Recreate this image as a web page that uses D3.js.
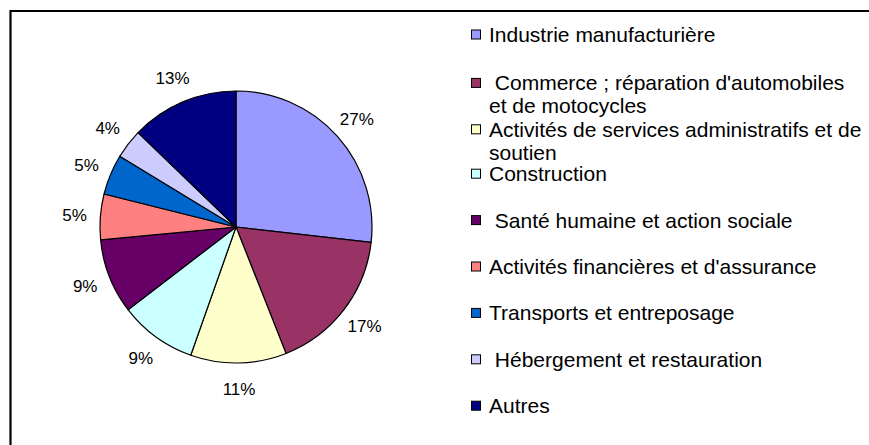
<!DOCTYPE html>
<html>
<head>
<meta charset="utf-8">
<script src="https://cdn.jsdelivr.net/npm/d3@7"></script>
<style>
  body { margin: 0; background: #fff; overflow: hidden; }
  svg { display: block; font-family: "Liberation Sans", Arial, sans-serif; }
</style>
</head>
<body>
<div id="wrapper"></div>
<script>
// secteurs (legend order = slice order, clockwise from 12 o'clock)
const categories = [
  "Industrie manufacturière",
  " Commerce ; réparation d'automobiles\net de motocycles",
  "Activités de services administratifs et de\nsoutien",
  "Construction",
  " Santé humaine et action sociale",
  "Activités financières et d'assurance",
  "Transports et entreposage",
  " Hébergement et restauration",
  "Autres",
]
// part en %
const shares = [26.8, 17.2, 11.4, 9.2, 8.9, 5.4, 4.8, 3.5, 12.8]
const colors = ["#9999FF", "#993366", "#FFFFCC", "#CCFFFF", "#660066", "#FF8080", "#0066CC", "#CCCCFF", "#000080"]

function drawPieChart() {

  // 1. Access data
  const dataset = categories.map((c, i) => ({ name: c, value: shares[i], color: colors[i] }))
  const valueAccessor = d => d.value

  // 2. Create chart dimensions
  let dimensions = {
    width: 869,
    height: 445,
    radius: 136,
    center: { x: 236, y: 227 },
    legend: { x: 471, y: 34.5, step: 46.4, lineHeight: 23 },
  }

  // 3. Draw canvas
  const wrapper = d3.select("#wrapper")
    .append("svg")
    .attr("width", dimensions.width)
    .attr("height", dimensions.height)

  // frame: only the top and left edges show in the picture
  wrapper.append("path")
    .attr("d", `M10.5,${dimensions.height} V11 H${dimensions.width}`)
    .attr("fill", "none")
    .attr("stroke", "#000")
    .attr("stroke-width", 2.2)

  const bounds = wrapper.append("g")
    .attr("transform", `translate(${dimensions.center.x}, ${dimensions.center.y})`)

  // 4. Create scales / generators
  const pieGenerator = d3.pie()
    .sort(null)
    .value(valueAccessor)

  const arcs = pieGenerator(dataset)

  const arcGenerator = d3.arc()
    .innerRadius(0)
    .outerRadius(dimensions.radius)

  const labelArc = d3.arc()
    .innerRadius(dimensions.radius + 26)
    .outerRadius(dimensions.radius + 26)

  // 5. Draw data
  bounds.selectAll(".slice")
    .data(arcs)
    .join("path")
    .attr("class", "slice")
    .attr("d", arcGenerator)
    .attr("fill", d => d.data.color)
    .attr("stroke", "#000")
    .attr("stroke-width", 1.2)
    .attr("stroke-linejoin", "round")

  bounds.selectAll(".pct")
    .data(arcs)
    .join("text")
    .attr("class", "pct")
    .attr("transform", d => `translate(${labelArc.centroid(d)})`)
    .attr("text-anchor", "middle")
    .attr("dy", "0.36em")
    .style("font-size", "17px")
    .attr("fill", "#000")
    .text(d => `${Math.round(d.data.value)}%`)

  // 6. Draw peripherals (legend)
  const legend = wrapper.append("g")
    .attr("transform", `translate(${dimensions.legend.x}, ${dimensions.legend.y})`)

  const items = legend.selectAll(".item")
    .data(dataset)
    .join("g")
    .attr("class", "item")
    .attr("transform", (d, i) => {
      const lines = d.name.split("\n")
      const shift = lines.length > 1 ? 2 : 0
      return `translate(0, ${i * dimensions.legend.step + shift})`
    })

  items.append("rect")
    .attr("x", 0.5)
    .attr("y", -4.5)
    .attr("width", 9)
    .attr("height", 9)
    .attr("fill", d => d.color)
    .attr("stroke", "#000")
    .attr("stroke-width", 1)

  items.append("text")
    .style("font-size", "21px")
    .style("white-space", "pre")
    .attr("fill", "#000")
    .selectAll("tspan")
    .data(d => d.name.split("\n"))
    .join("tspan")
    .attr("x", 18)
    .attr("y", (d, i) => i * dimensions.legend.lineHeight)
    .attr("dy", "0.36em")
    .text(d => d)
}
drawPieChart()
</script>
</body>
</html>
